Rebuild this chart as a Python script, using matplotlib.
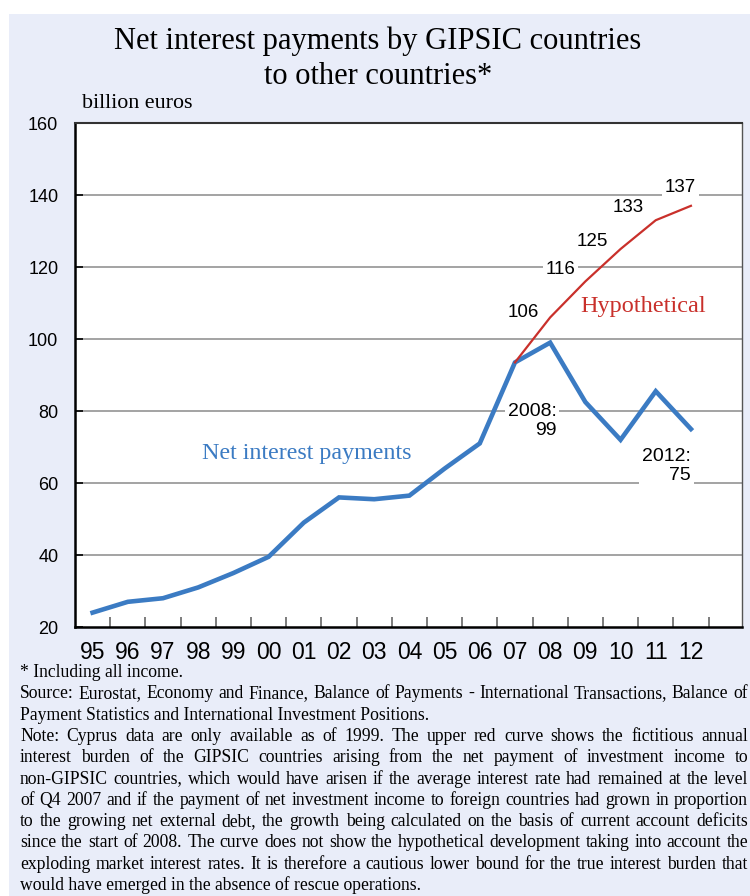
import matplotlib
matplotlib.use('Agg')
import matplotlib.pyplot as plt
from matplotlib.patches import Rectangle

# data (billion euros)
years = ['95', '96', '97', '98', '99', '00', '01', '02', '03',
         '04', '05', '06', '07', '08', '09', '10', '11', '12']
net_interest = [24, 27, 28, 31, 35, 39.5, 49, 56, 55.5,
                56.5, 64, 71, 93.5, 99, 82.5, 72, 85.5, 75]
hyp_years = ['07', '08', '09', '10', '11', '12']
hypothetical = [93.5, 106, 116, 125, 133, 137]
hyp_labels = ['106', '116', '125', '133', '137']

BLUE = '#3B7BC3'
RED = '#C9302B'
BG = '#E9EDF9'
SERIF = ['Liberation Serif', 'DejaVu Serif']
SANS = ['Liberation Sans', 'DejaVu Sans']

fig = plt.figure(figsize=(7.5, 8.96), dpi=100)
fig.patch.set_facecolor('white')
fig.patches.append(Rectangle((9 / 750, 0), 1, 1 - 14 / 896, transform=fig.transFigure,
                             facecolor=BG, edgecolor='none', zorder=-10))

ax = fig.add_axes([0.1, 0.3002, 0.8893, 0.5625])
ax.set_facecolor('white')

xpos = list(range(len(years)))
hx = [years.index(y) for y in hyp_years]

for v in [40, 60, 80, 100, 120, 140]:
    ax.axhline(v, color='#8a8a8a', lw=1.1, zorder=1)

ax.plot(xpos, net_interest, color=BLUE, lw=3.3, zorder=3, solid_joinstyle='miter')
ax.plot(hx, hypothetical, color=RED, lw=1.6, zorder=3)

ax.set_xlim(-0.5, 18.45)
ax.set_ylim(20, 160)
ax.set_yticks([20, 40, 60, 80, 100, 120, 140, 160])
ax.set_yticklabels(['20', '40', '60', '80', '100', '120', '140', '160'], family=SANS, fontsize=13)
ax.tick_params(axis='y', direction='in', length=6, width=1.2, color='black', pad=12)

ax.set_xticks([i + 0.5 for i in xpos])
ax.set_xticklabels([])
ax.tick_params(axis='x', direction='in', length=7, width=1.2, color='#666666')
for i, y in enumerate(years):
    ax.text(i, 20 - 14 / 3.6, y, ha='center', va='top', family=SANS,
            fontsize=16.5, clip_on=False)

for s in ['left', 'bottom']:
    ax.spines[s].set_linewidth(1.8)
    ax.spines[s].set_color('black')
ax.spines['top'].set_linewidth(1.5)
ax.spines['top'].set_color('#333333')
ax.spines['right'].set_linewidth(1.0)
ax.spines['right'].set_color('#555555')

box = dict(facecolor='white', edgecolor='none', pad=2)
lab_pos = [(12.25, 107.5), (13.3, 119.4), (14.2, 127.2), (15.23, 136.4), (16.7, 142.2)]
for (x, y), t in zip(lab_pos, hyp_labels):
    ax.text(x, y, t, ha='center', va='center', family=SANS, fontsize=13.5, bbox=box, zorder=4)

ax.text(13.18, 77.2, '2008:\n99', ha='right', va='center', multialignment='right',
        family=SANS, fontsize=14, bbox=box, zorder=4, linespacing=1.1)
ax.text(17.0, 64.7, '2012:\n75', ha='right', va='center', multialignment='right',
        family=SANS, fontsize=14, bbox=box, zorder=4, linespacing=1.1)
ax.text(13.86, 108.9, 'Hypothetical', ha='left', va='center', family=SERIF,
        fontsize=17.5, color=RED, zorder=4)
ax.text(3.1, 68.3, 'Net interest payments', ha='left', va='center', family=SERIF,
        fontsize=17.3, color=BLUE, zorder=4)

fig.text(378 / 750, 1 - 41 / 896, 'Net interest payments by GIPSIC countries',
         ha='center', va='center', family=SERIF, fontsize=22)
fig.text(378 / 750, 1 - 76 / 896, 'to other countries*',
         ha='center', va='center', family=SERIF, fontsize=22)
fig.text(82 / 750, 1 - 104 / 896, 'billion euros', ha='left', va='center',
         family=SERIF, fontsize=15.8)

# footnotes, justified line by line like the original
notes = [
    ('* Including all income.', False),
    ('Source: Eurostat, Economy and Finance, Balance of Payments - International Transactions, Balance of', True),
    ('Payment Statistics and International Investment Positions.', False),
    ('Note: Cyprus data are only available as of 1999. The upper red curve shows the fictitious annual', True),
    ('interest burden of the GIPSIC countries arising from the net payment of investment income to', True),
    ('non-GIPSIC countries, which would have arisen if the average interest rate had remained at the level', True),
    ('of Q4 2007 and if the payment of net investment income to foreign countries had grown in proportion', True),
    ('to the growing net external debt, the growth being calculated on the basis of current account deficits', True),
    ('since the start of 2008. The curve does not show the hypothetical development taking into account the', True),
    ('exploding market interest rates. It is therefore a cautious lower bound for the true interest burden that', True),
    ('would have emerged in the absence of rescue operations.', False),
]

fig.canvas.draw()
renderer = fig.canvas.get_renderer()
x0, x1 = 20, 748
base_first, step = 677, 21.3
for k, (line, just) in enumerate(notes):
    yy = 1 - (base_first + k * step) / 896
    if not just:
        fig.text(x0 / 750, yy, line, ha='left', va='baseline', family=SERIF, fontsize=12.7)
        continue
    words = line.split()
    objs = [fig.text(0, yy, w, ha='left', va='baseline', family=SERIF, fontsize=12.7) for w in words]
    widths = [o.get_window_extent(renderer).width for o in objs]
    gap = (x1 - x0 - sum(widths)) / (len(words) - 1)
    cx = x0
    for o, w in zip(objs, widths):
        o.set_x(cx / 750)
        cx += w + gap

fig.savefig('out.png', dpi=100, facecolor=fig.get_facecolor())
